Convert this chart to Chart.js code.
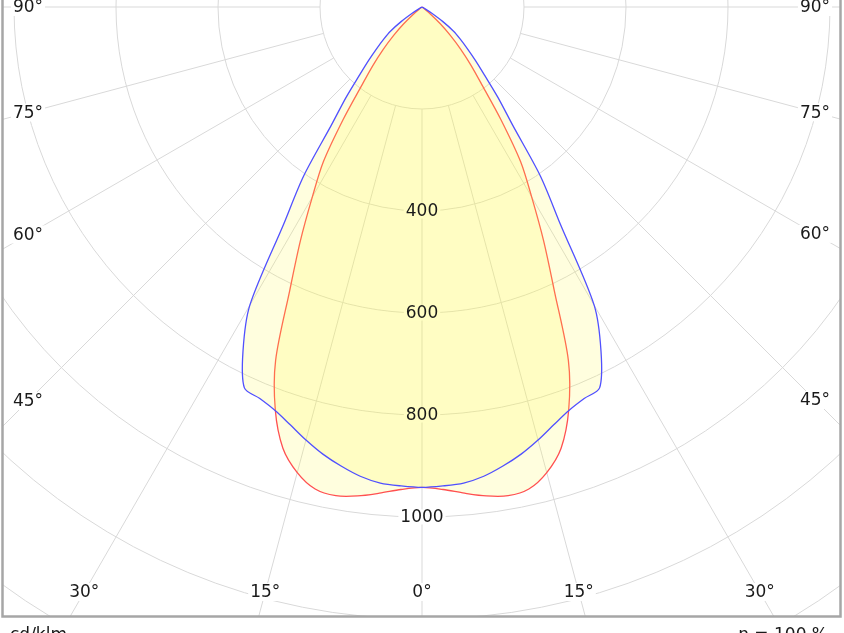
<!DOCTYPE html>
<html>
<head>
<meta charset="utf-8">
<title>Polar diagram</title>
<script src="https://cdn.jsdelivr.net/npm/chart.js@4.4.1/dist/chart.umd.min.js"></script>
<style>
    html, body { margin: 0; padding: 0; background: #fff; overflow: hidden; }
    canvas { display: block; }
</style>
</head>
<body>
<canvas id="myChart" width="844" height="633"></canvas>
<script>
// gamma angles from nadir (deg); the luminaire is symmetric, so one half of each plane is listed
const angles = [0, 2.5, 5, 7.5, 10, 12.5, 15, 17.5, 20, 22.5, 25, 27.5, 30, 32.5, 35, 37.5, 40, 42.5, 45, 47.5, 50, 52.5, 55, 57.5, 60, 62.5, 65, 75, 90];
// cd/klm
const planeC0 = [942, 947, 957, 967, 973, 968, 945, 907, 841, 750, 614, 516, 430, 360, 270, 195, 150, 112, 78, 48, 22, 6, 0, 0, 0, 0, 0, 0, 0];
const planeC90 = [942, 940, 937, 928, 914, 898, 879, 859, 842, 831, 824, 760, 675, 505, 405, 292, 232, 182, 148, 120, 98, 78, 50, 22, 5, 0, 0, 0, 0];

const rings = [200, 400, 600, 800, 1000, 1200, 1400, 1600];
const ringLabels = [400, 600, 800, 1000];
const spokes = [-90, -75, -60, -45, -30, -15, 0, 15, 30, 45, 60, 75, 90];
const unitText = 'cd/klm';
const etaText = 'η = 100 %';

document.addEventListener('DOMContentLoaded', () => {
    const ctx = document.getElementById('myChart');
    const font = '17px "DejaVu Sans", Verdana, sans-serif';

    // frame of the diagram and the lamp position, in page pixels
    const frame = { left: 3, right: 840, top: 0, bottom: 616 };
    const origin = { x: 422, y: 7 };
    const pxPerCd = 0.51;

    function polar(deg, v) {
        const t = deg * Math.PI / 180;
        return { x: v * Math.sin(t), y: -v * Math.cos(t) };
    }

    function toPoints(values) {
        const pts = [];
        for (let i = angles.length - 1; i >= 0; i--) pts.push(polar(-angles[i], values[i]));
        for (let i = 1; i < angles.length; i++) pts.push(polar(angles[i], values[i]));
        return pts;
    }

    function labelBox(c, x, y, w, h) {
        c.fillStyle = '#ffffff';
        c.fillRect(x - w / 2, y - h / 2, w, h);
    }

    const polarGrid = {
        id: 'polarGrid',
        beforeDatasetsDraw(chart) {
            const { ctx: c, chartArea: a, scales: { x, y } } = chart;
            const cx = x.getPixelForValue(0);
            const cy = y.getPixelForValue(0);
            const k = (x.getPixelForValue(1000) - cx) / 1000;

            c.save();
            c.beginPath();
            c.rect(a.left, a.top, a.right - a.left, a.bottom - a.top);
            c.clip();
            c.strokeStyle = '#d9d9d9';
            c.lineWidth = 1;
            rings.forEach(v => {
                c.beginPath();
                c.arc(cx, cy, v * k, 0, Math.PI * 2);
                c.stroke();
            });
            spokes.forEach(d => {
                const t = d * Math.PI / 180;
                const r0 = rings[0] * k;
                const r1 = 3000 * k;
                c.beginPath();
                c.moveTo(cx + r0 * Math.sin(t), cy + r0 * Math.cos(t));
                c.lineTo(cx + r1 * Math.sin(t), cy + r1 * Math.cos(t));
                c.stroke();
            });

            c.font = font;
            ringLabels.forEach(v => {
                const w = c.measureText(String(v)).width + 4;
                labelBox(c, cx, cy + v * k, w, 15);
            });
            c.restore();
        },
        afterDatasetsDraw(chart) {
            const { ctx: c, chartArea: a, scales: { x, y } } = chart;
            const cx = x.getPixelForValue(0);
            const cy = y.getPixelForValue(0);
            const k = (x.getPixelForValue(1000) - cx) / 1000;

            c.save();
            c.font = font;
            c.fillStyle = '#1a1a1a';
            c.textAlign = 'center';
            c.textBaseline = 'middle';
            ringLabels.forEach(v => c.fillText(String(v), cx, cy + v * k + 1));

            // angle labels sit on their spoke, just inside the frame
            const insetSide = 25, insetBottom = 24;
            spokes.forEach(d => {
                const t = d * Math.PI / 180;
                const s = Math.sin(t), co = Math.cos(t);
                let tx = Infinity, ty = Infinity;
                if (s < -1e-6) tx = (a.left + insetSide - cx) / s;
                if (s > 1e-6) tx = (a.right - insetSide - cx) / s;
                if (co > 1e-6) ty = (a.bottom - insetBottom - cy) / co;
                const r = Math.min(tx, ty);
                const px = cx + r * s, py = cy + r * co;
                const txt = Math.abs(d) + '°';
                const w = c.measureText(txt).width + 4;
                labelBox(c, px, py, w, 18);
                c.fillStyle = '#1a1a1a';
                c.fillText(txt, px, py + 1);
            });
            c.restore();
        },
        afterDraw(chart) {
            const { ctx: c, chartArea: a } = chart;
            c.save();
            c.strokeStyle = '#a6a6a6';
            c.lineWidth = 2.5;
            c.strokeRect(a.left - 0.5, a.top - 5, a.right - a.left + 1, a.bottom - a.top + 5.5);

            c.font = font;
            c.fillStyle = '#1a1a1a';
            c.textBaseline = 'alphabetic';
            c.textAlign = 'left';
            c.fillText(unitText, 10, 640);
            c.textAlign = 'right';
            c.fillText(etaText, 828, 640);
            c.restore();
        }
    };

    const myChart = new Chart(ctx, {
        type: 'scatter',
        data: {
            datasets: [
                { label: 'C90 - C270', data: toPoints(planeC90), showLine: true, borderColor: '#5050ff', borderWidth: 1.3, backgroundColor: 'rgba(255, 248, 70, 0.18)', fill: 'shape', pointRadius: 0, tension: 0.3, borderJoinStyle: 'round' },
                { label: 'C0 - C180', data: toPoints(planeC0), showLine: true, borderColor: '#ff5050', borderWidth: 1.3, backgroundColor: 'rgba(255, 248, 70, 0.18)', fill: 'shape', pointRadius: 0, tension: 0.3, borderJoinStyle: 'round' }
            ]
        },
        options: {
            responsive: false,
            animation: false,
            devicePixelRatio: 1,
            layout: { padding: { left: frame.left, top: frame.top, right: 844 - frame.right, bottom: 633 - frame.bottom } },
            scales: {
                x: { type: 'linear', display: false, min: (frame.left - origin.x) / pxPerCd, max: (frame.right - origin.x) / pxPerCd },
                y: { type: 'linear', display: false, min: (origin.y - frame.bottom) / pxPerCd, max: (origin.y - frame.top) / pxPerCd }
            },
            plugins: { legend: { display: false }, tooltip: { enabled: false } }
        },
        plugins: [polarGrid]
    });
});
</script>
</body>
</html>
